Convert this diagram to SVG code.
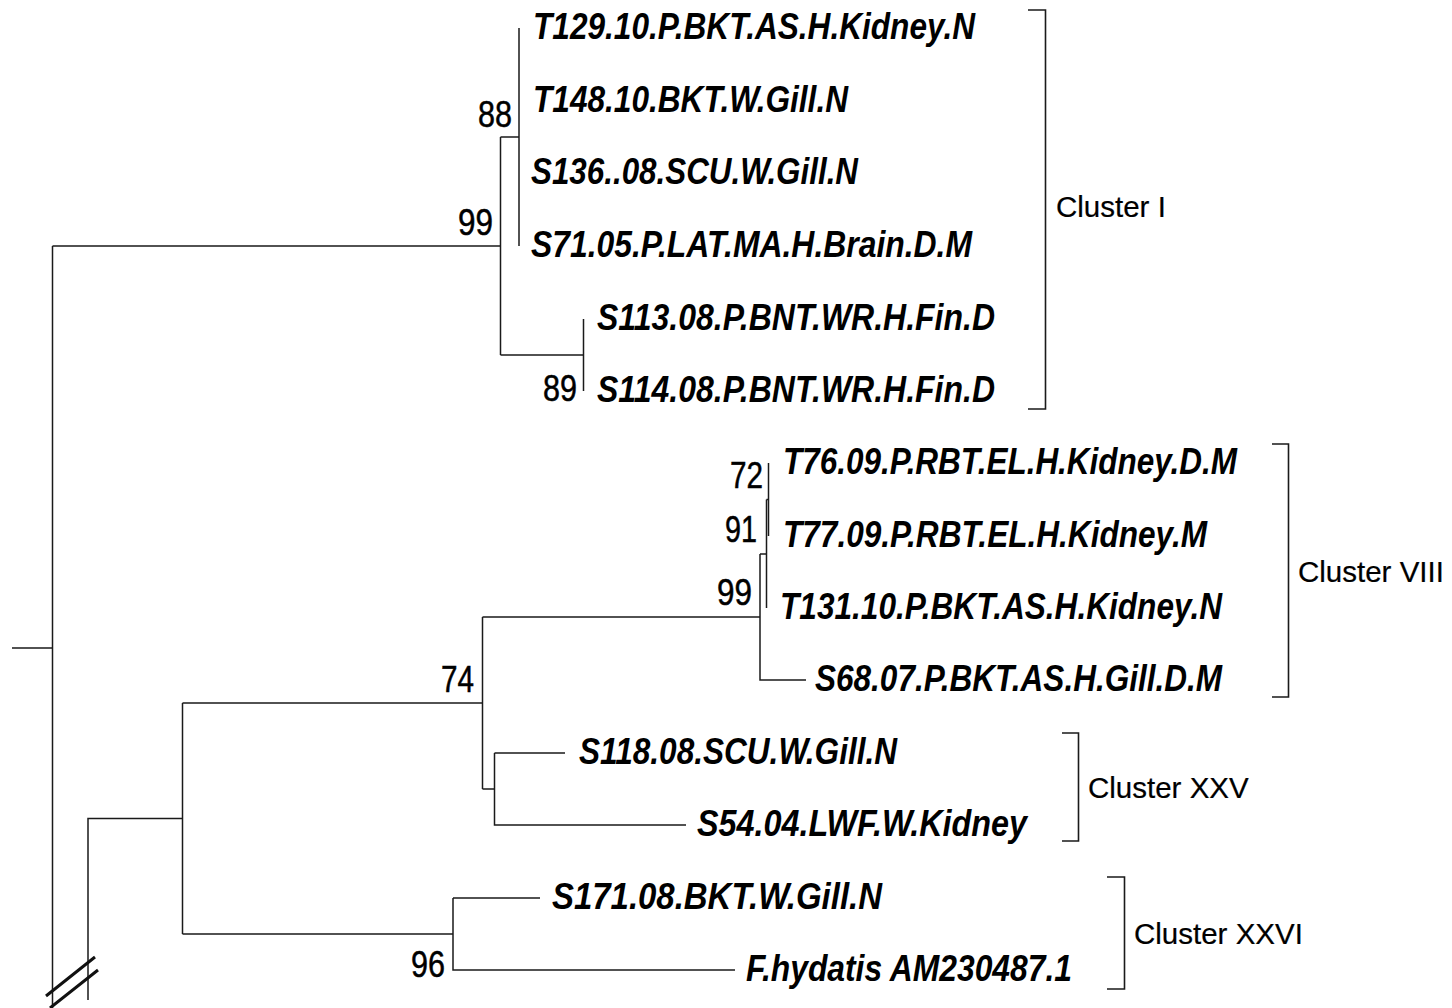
<svg xmlns="http://www.w3.org/2000/svg" width="1452" height="1008" viewBox="0 0 1452 1008">
<style>
.br{fill:none;stroke:#1a1a1a;stroke-width:1.5;}
.bk{fill:none;stroke:#1a1a1a;stroke-width:1.6;}
.leaf{font-family:"Liberation Sans Narrow","Arial Narrow","Liberation Sans",Arial,sans-serif;font-style:italic;font-weight:bold;font-size:36px;fill:#000;}
.bs{font-family:"Liberation Sans Narrow","Arial Narrow","Liberation Sans",Arial,sans-serif;font-size:36px;fill:#000;stroke:#000;stroke-width:0.5;text-anchor:end;}
.cl{font-family:"Liberation Sans",Arial,sans-serif;font-size:29.5px;fill:#000;stroke:#000;stroke-width:0.2;}
</style>
<rect width="1452" height="1008" fill="#fff"/>
<g id="connectors">
  <path class="br" d="M12,648 H52.5 M52.5,246 V1008"/>
  <path class="br" d="M52.5,246 H500.5 M500.5,137 V355"/>
  <path class="br" d="M500.5,137 H519 M519,28 V246"/>
  <path class="br" d="M500.5,355 H583.5 M583.5,319 V391"/>
  <path class="br" d="M88,1000 V818.5 H182.5 M182.5,703 V934"/>
  <path class="br" d="M182.5,703 H482.5 M482.5,617 V789"/>
  <path class="br" d="M482.5,617 H760 M760,554 V680 H806"/>
  <path class="br" d="M760,554 H766.5 M766.5,499.5 V608"/>
  <path class="br" d="M766.5,499.5 H768.5 M768.5,463 V536"/>
  <path class="br" d="M482.5,789 H494.5 M494.5,753 V825 H686 M494.5,753 H565"/>
  <path class="br" d="M182.5,934 H453 M453,898 V970 H735 M453,898 H540"/>
  <path d="M46,996 L95,957 M50,1008 L98,970" fill="none" stroke="#111" stroke-width="3"/>
</g>
<g id="leaf-T129"><text class="leaf" x="533" y="38.5" textLength="442" lengthAdjust="spacingAndGlyphs">T129.10.P.BKT.AS.H.Kidney.N</text></g>
<g id="leaf-T148"><text class="leaf" x="533" y="111.5" textLength="315" lengthAdjust="spacingAndGlyphs">T148.10.BKT.W.Gill.N</text></g>
<g id="leaf-S136"><text class="leaf" x="531" y="184" textLength="327" lengthAdjust="spacingAndGlyphs">S136..08.SCU.W.Gill.N</text></g>
<g id="leaf-S71"><text class="leaf" x="531" y="256.5" textLength="441" lengthAdjust="spacingAndGlyphs">S71.05.P.LAT.MA.H.Brain.D.M</text></g>
<g id="leaf-S113"><text class="leaf" x="597" y="329.5" textLength="398" lengthAdjust="spacingAndGlyphs">S113.08.P.BNT.WR.H.Fin.D</text></g>
<g id="leaf-S114"><text class="leaf" x="597" y="401.5" textLength="398" lengthAdjust="spacingAndGlyphs">S114.08.P.BNT.WR.H.Fin.D</text></g>
<g id="leaf-T76"><text class="leaf" x="783" y="473.5" textLength="454" lengthAdjust="spacingAndGlyphs">T76.09.P.RBT.EL.H.Kidney.D.M</text></g>
<g id="leaf-T77"><text class="leaf" x="783" y="546.5" textLength="424" lengthAdjust="spacingAndGlyphs">T77.09.P.RBT.EL.H.Kidney.M</text></g>
<g id="leaf-T131"><text class="leaf" x="780" y="618.5" textLength="442" lengthAdjust="spacingAndGlyphs">T131.10.P.BKT.AS.H.Kidney.N</text></g>
<g id="leaf-S68"><text class="leaf" x="815" y="690.5" textLength="407" lengthAdjust="spacingAndGlyphs">S68.07.P.BKT.AS.H.Gill.D.M</text></g>
<g id="leaf-S118"><text class="leaf" x="579" y="763.5" textLength="318" lengthAdjust="spacingAndGlyphs">S118.08.SCU.W.Gill.N</text></g>
<g id="leaf-S54"><text class="leaf" x="697" y="835.5" textLength="330" lengthAdjust="spacingAndGlyphs">S54.04.LWF.W.Kidney</text></g>
<g id="leaf-S171"><text class="leaf" x="552" y="908.5" textLength="330" lengthAdjust="spacingAndGlyphs">S171.08.BKT.W.Gill.N</text></g>
<g id="leaf-Fhydatis"><text class="leaf" x="746" y="980.5" textLength="326" lengthAdjust="spacingAndGlyphs">F.hydatis AM230487.1</text></g>
<g id="bootstrap">
  <text class="bs" x="512" y="126.5" textLength="34" lengthAdjust="spacingAndGlyphs">88</text>
  <text class="bs" x="493" y="234.5" textLength="35" lengthAdjust="spacingAndGlyphs">99</text>
  <text class="bs" x="577" y="400.5" textLength="34" lengthAdjust="spacingAndGlyphs">89</text>
  <text class="bs" x="763" y="488" textLength="33" lengthAdjust="spacingAndGlyphs">72</text>
  <text class="bs" x="757" y="542" textLength="32" lengthAdjust="spacingAndGlyphs">91</text>
  <text class="bs" x="752" y="605" textLength="35" lengthAdjust="spacingAndGlyphs">99</text>
  <text class="bs" x="474" y="692" textLength="33" lengthAdjust="spacingAndGlyphs">74</text>
  <text class="bs" x="445" y="977" textLength="34" lengthAdjust="spacingAndGlyphs">96</text>
</g>
<g id="cluster-I">
  <path class="bk" d="M1028,10 H1045.5 V409 H1028"/>
  <text class="cl" x="1056" y="217">Cluster I</text>
</g>
<g id="cluster-VIII">
  <path class="bk" d="M1272,444 H1288.5 V697 H1272"/>
  <text class="cl" x="1298" y="582">Cluster VIII</text>
</g>
<g id="cluster-XXV">
  <path class="bk" d="M1062,733 H1078.5 V841 H1062"/>
  <text class="cl" x="1088" y="798">Cluster XXV</text>
</g>
<g id="cluster-XXVI">
  <path class="bk" d="M1107,877 H1124.5 V989 H1107"/>
  <text class="cl" x="1134" y="944">Cluster XXVI</text>
</g>
</svg>
